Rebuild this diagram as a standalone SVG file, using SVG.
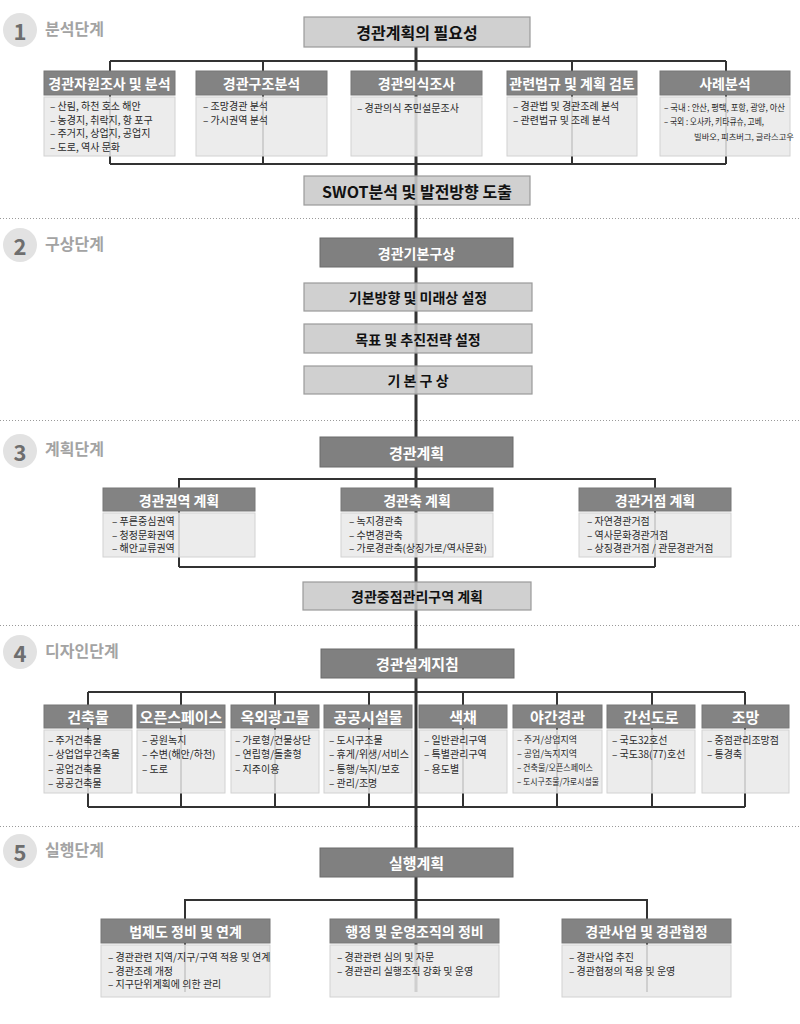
<svg xmlns="http://www.w3.org/2000/svg" width="800" height="1024" viewBox="0 0 800 1024">
<style>
text{font-family:"Noto Sans CJK KR","Noto Sans",sans-serif}
.sep{stroke:#9a9a9a;stroke-width:1;stroke-dasharray:1 2;fill:none}
.ln{stroke:#333;stroke-width:2;fill:none}
.spine{stroke:#333;stroke-width:3;fill:none}
.circ{fill:#e2e2e2}
.num{font-size:22px;font-weight:bold;fill:#6e6e6e;text-anchor:middle;dominant-baseline:central}
.stg{font-size:16px;font-weight:bold;fill:#a3a3a3;dominant-baseline:central}
.lt{fill:#c9c9c9;fill-opacity:0.88;stroke:#9a9a9a;stroke-width:1.2}
.dk{fill:#808080;stroke:#6a6a6a;stroke-width:1}
.hd{fill:#838383;stroke:#777;stroke-width:1}
.ct{fill:#e9e9e9;fill-opacity:0.86;stroke:#d2d2d2;stroke-width:1}
.tb{font-size:14px;font-weight:bold;fill:#111;text-anchor:middle;dominant-baseline:central}
.tt{font-size:16px;font-weight:bold;fill:#111;text-anchor:middle;dominant-baseline:central}
.tw{font-size:15px;font-weight:bold;fill:#fff;text-anchor:middle;dominant-baseline:central}
.th{font-size:14px;font-weight:bold;fill:#fff;text-anchor:middle;dominant-baseline:central}
.th4{font-size:15px;font-weight:bold;fill:#fff;text-anchor:middle;dominant-baseline:central}
.c{font-size:10px;fill:#2a2a2a;dominant-baseline:central}
.cs{font-size:9px;fill:#2a2a2a;dominant-baseline:central}
.cx{font-size:8.3px;fill:#2a2a2a;dominant-baseline:central}
</style>

<g id="separators">
<line class="sep" x1="0" y1="218.5" x2="800" y2="218.5"/>
<line class="sep" x1="0" y1="420.5" x2="800" y2="420.5"/>
<line class="sep" x1="0" y1="625.5" x2="800" y2="625.5"/>
<line class="sep" x1="0" y1="826.5" x2="800" y2="826.5"/>
</g>

<g id="stage1"><circle class="circ" cx="20" cy="30" r="17"/><text class="num" x="20" y="30">1</text><text class="stg" x="45" y="28">분석단계</text></g>
<g id="stage2"><circle class="circ" cx="20" cy="245" r="17"/><text class="num" x="20" y="245">2</text><text class="stg" x="45" y="243">구상단계</text></g>
<g id="stage3"><circle class="circ" cx="20" cy="451" r="17"/><text class="num" x="20" y="451">3</text><text class="stg" x="45" y="448">계획단계</text></g>
<g id="stage4"><circle class="circ" cx="20" cy="652" r="17"/><text class="num" x="20" y="652">4</text><text class="stg" x="45" y="650">디자인단계</text></g>
<g id="stage5"><circle class="circ" cx="20" cy="851" r="17"/><text class="num" x="20" y="851">5</text><text class="stg" x="45" y="849">실행단계</text></g>

<g id="connectors">
<line class="spine" x1="416" y1="47" x2="416" y2="992"/>
<line class="ln" x1="110" y1="61" x2="726" y2="61"/>
<line class="ln" x1="110" y1="164" x2="726" y2="164"/>
<line class="ln" x1="110" y1="61" x2="110" y2="164"/>
<line class="ln" x1="263" y1="61" x2="263" y2="164"/>
<line class="ln" x1="572" y1="61" x2="572" y2="164"/>
<line class="ln" x1="726" y1="61" x2="726" y2="164"/>
<polyline class="ln" points="179,567 179,479 655,479 655,567"/>
<line class="ln" x1="179" y1="567" x2="655" y2="567"/>
<line class="ln" x1="88" y1="692" x2="745" y2="692"/>
<line class="ln" x1="88" y1="807" x2="745" y2="807"/>
<line class="ln" x1="88" y1="692" x2="88" y2="807"/>
<line class="ln" x1="181" y1="692" x2="181" y2="807"/>
<line class="ln" x1="275" y1="692" x2="275" y2="807"/>
<line class="ln" x1="369" y1="692" x2="369" y2="807"/>
<line class="ln" x1="463" y1="692" x2="463" y2="807"/>
<line class="ln" x1="557" y1="692" x2="557" y2="807"/>
<line class="ln" x1="652" y1="692" x2="652" y2="807"/>
<line class="ln" x1="745" y1="692" x2="745" y2="807"/>
<polyline class="ln" points="185,992 185,900 647,900 647,992"/>
</g>

<g id="need"><rect class="lt" x="304" y="17" width="226" height="30"/><text class="tt" x="417" y="32">경관계획의 필요성</text></g>

<g id="n1-1"><rect class="hd" x="44" y="71" width="131" height="24"/><text class="th" x="109.5" y="83">경관자원조사 및 분석</text>
<rect class="ct" x="44" y="97" width="131" height="59"/>
<text class="c" x="50" y="105.5">– 산림, 하천 호소 해안</text>
<text class="c" x="50" y="119">– 농경지, 취락지, 항 포구</text>
<text class="c" x="50" y="132.5">– 주거지, 상업지, 공업지</text>
<text class="c" x="50" y="146">– 도로, 역사 문화</text></g>

<g id="n1-2"><rect class="hd" x="196" y="71" width="131" height="24"/><text class="th" x="261.5" y="83">경관구조분석</text>
<rect class="ct" x="196" y="97" width="131" height="59"/>
<text class="c" x="203" y="105.5">– 조망경관 분석</text>
<text class="c" x="203" y="119.5">– 가시권역 분석</text></g>

<g id="n1-3"><rect class="hd" x="351" y="71" width="131" height="24"/><text class="th" x="416.5" y="83">경관의식조사</text>
<rect class="ct" x="351" y="97" width="131" height="59"/>
<text class="c" x="357" y="107">– 경관의식 주민설문조사</text></g>

<g id="n1-4"><rect class="hd" x="507" y="71" width="130" height="24"/><text class="th" x="572" y="83">관련법규 및 계획 검토</text>
<rect class="ct" x="507" y="97" width="130" height="59"/>
<text class="c" x="513" y="105.5">– 경관법 및 경관조례 분석</text>
<text class="c" x="513" y="119.5">– 관련법규 및 조례 분석</text></g>

<g id="n1-5"><rect class="hd" x="660" y="71" width="130" height="24"/><text class="th" x="725" y="83">사례분석</text>
<rect class="ct" x="660" y="97" width="130" height="59"/>
<text class="cs" x="664" y="107.5" textLength="121" lengthAdjust="spacingAndGlyphs">– 국내 : 안산, 평택, 포항, 광양, 아산</text>
<text class="cs" x="664" y="121.5" textLength="100" lengthAdjust="spacingAndGlyphs">– 국외 : 오사카, 키타큐슈, 고베,</text>
<text class="cx" x="694" y="135.5">빌바오, 피츠버그, 글라스고우</text></g>

<g id="swot"><rect class="lt" x="304" y="176" width="226" height="29"/><text class="tt" x="417" y="190.5">SWOT분석 및 발전방향 도출</text></g>

<g id="basic-concept"><rect class="dk" x="320" y="238" width="193" height="29"/><text class="th" x="416.5" y="252.5">경관기본구상</text></g>
<g id="direction"><rect class="lt" x="304" y="283" width="228" height="28"/><text class="tb" x="418" y="297">기본방향 및 미래상 설정</text></g>
<g id="goal"><rect class="lt" x="304" y="324" width="228" height="29"/><text class="tb" x="418" y="338.5">목표 및 추진전략 설정</text></g>
<g id="concept"><rect class="lt" x="304" y="366" width="228" height="28"/><text class="tb" x="418" y="380">기 본 구 상</text></g>

<g id="plan"><rect class="dk" x="320" y="437" width="193" height="30"/><text class="tw" x="416.5" y="452">경관계획</text></g>

<g id="n3-1"><rect class="hd" x="103" y="488" width="152" height="23"/><text class="th" x="179" y="499.5">경관권역 계획</text>
<rect class="ct" x="103" y="513" width="152" height="44"/>
<text class="c" x="112" y="520.5">– 푸른중심권역</text>
<text class="c" x="112" y="534">– 청정문화권역</text>
<text class="c" x="112" y="547.5">– 해안교류권역</text></g>

<g id="n3-2"><rect class="hd" x="341" y="488" width="152" height="23"/><text class="th" x="417" y="499.5">경관축 계획</text>
<rect class="ct" x="341" y="513" width="152" height="44"/>
<text class="c" x="349" y="520.5">– 녹지경관축</text>
<text class="c" x="349" y="534">– 수변경관축</text>
<text class="c" x="349" y="547.5">– 가로경관축(상징가로/역사문화)</text></g>

<g id="n3-3"><rect class="hd" x="579" y="488" width="152" height="23"/><text class="th" x="655" y="499.5">경관거점 계획</text>
<rect class="ct" x="579" y="513" width="152" height="44"/>
<text class="c" x="587" y="520.5">– 자연경관거점</text>
<text class="c" x="587" y="534">– 역사문화경관거점</text>
<text class="c" x="587" y="547.5">– 상징경관거점 / 관문경관거점</text></g>

<g id="focus"><rect class="lt" x="303" y="582" width="228" height="28"/><text class="tb" x="417" y="596">경관중점관리구역 계획</text></g>

<g id="guide"><rect class="dk" x="321" y="649" width="193" height="29"/><text class="tw" x="417.5" y="663.5">경관설계지침</text></g>

<g id="n4-1"><rect class="hd" x="44" y="705" width="88" height="23"/><text class="th4" x="88" y="716.5">건축물</text>
<rect class="ct" x="44" y="730" width="88" height="63"/>
<text class="c" x="48" y="739">– 주거건축물</text>
<text class="c" x="48" y="753.5">– 상업업무건축물</text>
<text class="c" x="48" y="768">– 공업건축물</text>
<text class="c" x="48" y="782.5">– 공공건축물</text></g>

<g id="n4-2"><rect class="hd" x="137" y="705" width="88" height="23"/><text class="th4" x="181" y="716.5">오픈스페이스</text>
<rect class="ct" x="137" y="730" width="88" height="63"/>
<text class="c" x="142" y="739">– 공원녹지</text>
<text class="c" x="142" y="753.5">– 수변(해안/하천)</text>
<text class="c" x="142" y="768">– 도로</text></g>

<g id="n4-3"><rect class="hd" x="231" y="705" width="88" height="23"/><text class="th4" x="275" y="716.5">옥외광고물</text>
<rect class="ct" x="231" y="730" width="88" height="63"/>
<text class="c" x="235" y="739">– 가로형/건물상단</text>
<text class="c" x="235" y="753.5">– 연립형/돌출형</text>
<text class="c" x="235" y="768">– 지주이용</text></g>

<g id="n4-4"><rect class="hd" x="324" y="705" width="88" height="23"/><text class="th4" x="368" y="716.5">공공시설물</text>
<rect class="ct" x="324" y="730" width="88" height="63"/>
<text class="c" x="329" y="739">– 도시구조물</text>
<text class="c" x="329" y="753.5">– 휴게/위생/서비스</text>
<text class="c" x="329" y="768">– 통행/녹지/보호</text>
<text class="c" x="329" y="782.5">– 관리/조명</text></g>

<g id="n4-5"><rect class="hd" x="419" y="705" width="88" height="23"/><text class="th4" x="463" y="716.5">색채</text>
<rect class="ct" x="419" y="730" width="88" height="63"/>
<text class="c" x="424" y="739">– 일반관리구역</text>
<text class="c" x="424" y="753.5">– 특별관리구역</text>
<text class="c" x="424" y="768">– 용도별</text></g>

<g id="n4-6"><rect class="hd" x="513" y="705" width="89" height="23"/><text class="th4" x="557.5" y="716.5">야간경관</text>
<rect class="ct" x="513" y="730" width="89" height="63"/>
<text class="cs" x="517" y="739.5">– 주거/상업지역</text>
<text class="cs" x="517" y="753.5">– 공업/녹지지역</text>
<text class="cs" x="517" y="767.5" textLength="76" lengthAdjust="spacingAndGlyphs">– 건축물/오픈스페이스</text>
<text class="cs" x="517" y="781.5" textLength="82" lengthAdjust="spacingAndGlyphs">– 도시구조물/가로시설물</text></g>

<g id="n4-7"><rect class="hd" x="607" y="705" width="88" height="23"/><text class="th4" x="651" y="716.5">간선도로</text>
<rect class="ct" x="607" y="730" width="88" height="63"/>
<text class="c" x="612" y="739">– 국도32호선</text>
<text class="c" x="612" y="753.5">– 국도38(77)호선</text></g>

<g id="n4-8"><rect class="hd" x="702" y="705" width="87" height="23"/><text class="th4" x="745.5" y="716.5">조망</text>
<rect class="ct" x="702" y="730" width="87" height="63"/>
<text class="c" x="707" y="739">– 중점관리조망점</text>
<text class="c" x="707" y="753.5">– 통경축</text></g>

<g id="exec"><rect class="dk" x="320" y="848" width="193" height="29"/><text class="tw" x="416.5" y="862.5">실행계획</text></g>

<g id="n5-1"><rect class="hd" x="101" y="919" width="169" height="24"/><text class="th" x="185.5" y="931">법제도 정비 및 연계</text>
<rect class="ct" x="101" y="945" width="169" height="52"/>
<text class="c" x="108" y="956.5">– 경관관련 지역/지구/구역 적용 및 연계</text>
<text class="c" x="108" y="970">– 경관조례 개정</text>
<text class="c" x="108" y="983.5">– 지구단위계획에 의한 관리</text></g>

<g id="n5-2"><rect class="hd" x="330" y="919" width="169" height="24"/><text class="th" x="414.5" y="931">행정 및 운영조직의 정비</text>
<rect class="ct" x="330" y="945" width="169" height="52"/>
<text class="c" x="337" y="956.5">– 경관관련 심의 및 자문</text>
<text class="c" x="337" y="970">– 경관관리 실행조직 강화 및 운영</text></g>

<g id="n5-3"><rect class="hd" x="562" y="919" width="169" height="24"/><text class="th" x="646.5" y="931">경관사업 및 경관협정</text>
<rect class="ct" x="562" y="945" width="169" height="52"/>
<text class="c" x="569" y="956.5">– 경관사업 추진</text>
<text class="c" x="569" y="970">– 경관협정의 적용 및 운영</text></g>
</svg>
